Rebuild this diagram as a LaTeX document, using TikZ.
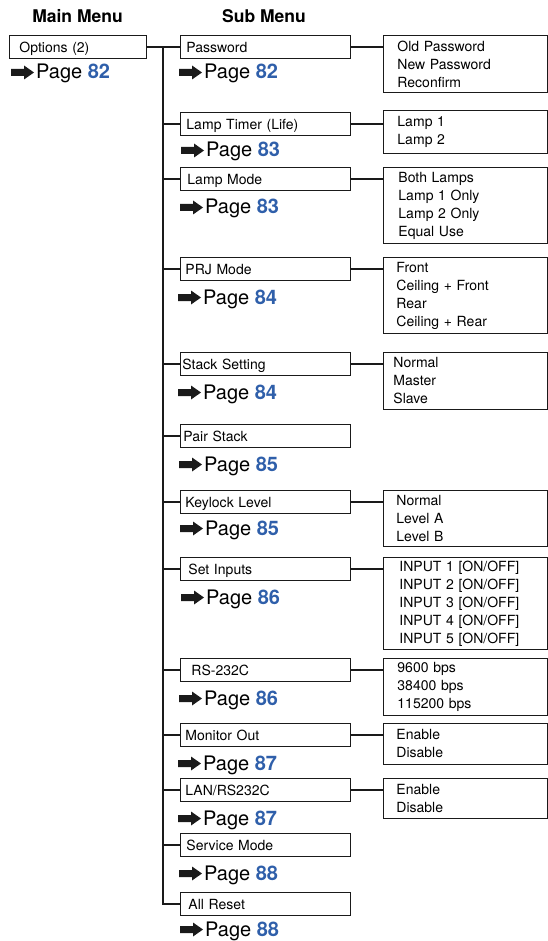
\documentclass[tikz,border=0pt]{standalone}
\usepackage{fontspec}
\setmainfont{TeX Gyre Heros}
\definecolor{pgblue}{HTML}{2F5FAA}
\definecolor{ink}{HTML}{1A1A1A}
\newcommand\pnum[1]{\textbf{\textcolor{pgblue}{#1}}}
\newcommand\parr[1]{\begin{scope}[shift={(#1.base west)}]\fill[ink] (-25,-3) -- (-12,-3) -- (-12,0.5) -- (-2,-6.5) -- (-12,-13.5) -- (-12,-10) -- (-25,-10) -- cycle;\end{scope}}
\tikzset{
  hdr/.style={font=\fontsize{17.5}{20}\selectfont\bfseries, inner sep=0pt, anchor=base},
  sbox/.style 2 args={draw=ink, line width=0.9pt, anchor=north west, minimum height=23pt,
    inner xsep=#1pt, inner ysep=0pt, text width=#2pt, align=left,
    text height=11pt, text depth=0pt,
    font=\fontsize{14}{16}\selectfont},
  rbox/.style n args={3}{draw=ink, line width=0.9pt, anchor=north west, minimum height=#1pt,
    inner xsep=#2pt, inner ysep=0pt, text width=#3pt, align=left,
    font=\fontsize{14}{18}\selectfont},
  plbl/.style={anchor=base west, inner sep=0pt, font=\fontsize{20}{22}\selectfont},
  conn/.style={draw=ink, line width=1.2pt},
}
\begin{document}
\begin{tikzpicture}[x=1pt,y=-1pt]
\useasboundingbox (0,0) rectangle (547,941);
% headers
\node[hdr] (hmain) at (77.5,23) {Main Menu};
\node[hdr] (hsub) at (264,23) {Sub Menu};
% main
\node[sbox={10}{117}] (opt) at (9,35) {Options (2)};
\node[plbl] (popt) at (36,79) {Page \pnum{82}};
% sub boxes
\node[sbox={6}{158}] (pw) at (180,35) {Password};
\node[sbox={6}{158}] (lt) at (180,112) {Lamp Timer (Life)};
\node[sbox={7}{156}] (lm) at (180,167) {Lamp Mode};
\node[sbox={5}{160}] (prj) at (180,257) {PRJ Mode};
\node[sbox={2}{166}] (st) at (180,352) {Stack Setting};
\node[sbox={3}{164}] (ps) at (180,424) {Pair Stack};
\node[sbox={5}{160}] (kl) at (180,490) {Keylock Level};
\node[sbox={8}{154}] (si) at (180,557) {Set Inputs};
\node[sbox={11}{148}] (rs) at (180,658) {RS-232C};
\node[sbox={5}{160}] (mo) at (180,723) {Monitor Out};
\node[sbox={5}{160}] (lan) at (180,778) {LAN/RS232C};
\node[sbox={6}{158}] (sm) at (180,833) {Service Mode};
\node[sbox={8}{154}] (ar) at (180,892) {All Reset};
% page labels
\node[plbl] (ppw) at (204,79) {Page \pnum{82}};
\node[plbl] (plt) at (206,157) {Page \pnum{83}};
\node[plbl] (plm) at (205,214) {Page \pnum{83}};
\node[plbl] (pprj) at (203,304) {Page \pnum{84}};
\node[plbl] (pst) at (203,399) {Page \pnum{84}};
\node[plbl] (pps) at (204,471) {Page \pnum{85}};
\node[plbl] (pkl) at (205,535) {Page \pnum{85}};
\node[plbl] (psi) at (206,604) {Page \pnum{86}};
\node[plbl] (prs) at (204,705) {Page \pnum{86}};
\node[plbl] (pmo) at (203,770) {Page \pnum{87}};
\node[plbl] (plan) at (203,825) {Page \pnum{87}};
\node[plbl] (psm) at (204,880) {Page \pnum{88}};
\node[plbl] (par) at (205,936) {Page \pnum{88}};
\foreach \p in {popt,ppw,plt,plm,pprj,pst,pps,pkl,psi,prs,pmo,plan,psm,par}{\parr{\p}}
% right boxes
\node[rbox={57}{14}{135.5}] (pwR) at (383,35) {Old Password\\New Password\\Reconfirm};
\node[rbox={43}{14}{135.5}] (ltR) at (383,110) {Lamp 1\\Lamp 2};
\node[rbox={76}{15}{133.5}] (lmR) at (383,167) {Both Lamps\\Lamp 1 Only\\Lamp 2 Only\\Equal Use};
\node[rbox={76}{13}{137.5}] (prjR) at (383,257) {Front\\Ceiling + Front\\Rear\\Ceiling + Rear};
\node[rbox={57}{10}{143.5}] (stR) at (383,352) {Normal\\Master\\Slave};
\node[rbox={56}{13}{137.5}] (klR) at (383,490) {Normal\\Level A\\Level B};
\node[rbox={92}{16}{131.5}] (siR) at (383,557) {INPUT 1 [ON/OFF]\\INPUT 2 [ON/OFF]\\INPUT 3 [ON/OFF]\\INPUT 4 [ON/OFF]\\INPUT 5 [ON/OFF]};
\node[rbox={57}{14}{135.5}] (rsR) at (383,658) {9600 bps\\38400 bps\\115200 bps};
\node[rbox={41}{13}{137.5}] (moR) at (383,723) {Enable\\Disable};
\node[rbox={40}{13}{137.5}] (lanR) at (383,778) {Enable\\Disable};
% connectors
\coordinate (tx) at (163,0);
\draw[conn] (opt.east) -- (pw.west);
\draw[conn] (tx |- pw.west) |- (ar.west);
\foreach \s in {lt,lm,prj,st,ps,kl,si,rs,mo,lan,sm}{\draw[conn] (tx |- \s.west) -- (\s.west);}
\foreach \s in {pw,lt,lm,prj,st,kl,si,rs,mo,lan}{\draw[conn] (\s.east) -- (\s.east -| \s R.west);}
\end{tikzpicture}
\end{document}
